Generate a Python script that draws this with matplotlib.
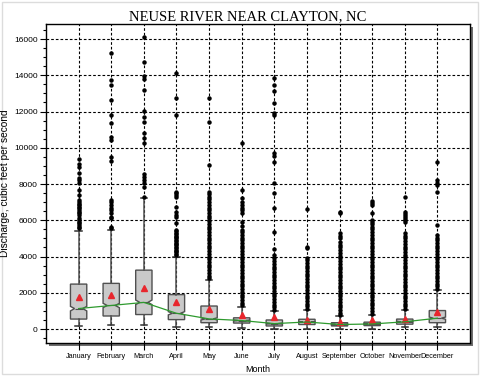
import matplotlib
matplotlib.use("Agg")
import matplotlib.pyplot as plt
from matplotlib.patches import Rectangle
from matplotlib.ticker import MultipleLocator

# Monthly discharge statistics, cubic feet per second
months = ["January", "February", "March", "April", "May", "June",
          "July", "August", "September", "October", "November", "December"]
q1 = [550, 720, 800, 520, 350, 330, 170, 250, 170, 190, 270, 350]
median = [1130, 1300, 1470, 870, 560, 470, 300, 390, 250, 280, 400, 600]
q3 = [2480, 2520, 3250, 1900, 1270, 620, 500, 540, 350, 380, 550, 1020]
notch_lo = [1000, 1180, 1350, 780, 500, 440, 270, 360, 230, 260, 370, 540]
notch_hi = [1250, 1420, 1600, 960, 620, 500, 330, 420, 270, 300, 430, 660]
whisker_lo = [165, 200, 210, 130, 90, 60, 20, 30, 10, 30, 90, 90]
whisker_hi = [5420, 5460, 7210, 3950, 2700, 1230, 1000, 1050, 700, 800, 1050, 2150]
mean = [1780, 1880, 2240, 1470, 1120, 750, 640, 500, 400, 480, 540, 960]

jan_out = [5560, 5650, 5740, 5830, 5920, 6000, 6120, 6290, 6380, 6470, 6560, 6660,
           6750, 6840, 6920, 7020, 7120, 7390, 7670, 8040, 8220, 8310, 8590, 8960,
           9100, 9360]
feb_out = [5570, 5650, 6110, 6200, 6380, 6570, 6700, 6850, 7000, 7120, 9290, 9470,
           10430, 10610, 11380, 11810, 12630, 13460, 13740, 15210]
mar_out = [7300, 7850, 8040, 8220, 8400, 8540, 10250, 10520, 10800, 11400, 11680,
           12030, 13190, 13780, 13960, 14750, 16130]
apr_out = [4080, 4150, 4230, 4300, 4380, 4460, 4530, 4610, 4690, 4760, 4840, 4920,
           5000, 5080, 5150, 5230, 5310, 5390, 5460, 5830, 6200, 6290, 6470, 6750,
           7300, 7390, 7490, 7580, 11810, 12730, 14110]
may_out = [2800, 2950, 3100, 3250, 3400, 3550, 3700, 3850, 4000, 4150, 4300, 4450,
           4600, 4750, 4900, 5050, 5200, 5350, 5500, 5650, 5800, 5950, 6100, 6250,
           6400, 6550, 6700, 6850, 7000, 7150, 7300, 7450, 7580, 9050, 11400, 12730]
jun_out = [1300, 1450, 1600, 1750, 1900, 2050, 2200, 2350, 2500, 2650, 2800, 2950,
           3100, 3250, 3400, 3550, 3700, 3850, 4000, 4150, 4300, 4450, 4600, 4750,
           4900, 5050, 5200, 5350, 5460, 5700, 5920, 6380, 6550, 6700, 6850, 7000,
           7210, 7670, 10250]
jul_out = [1050, 1200, 1350, 1500, 1650, 1800, 1950, 2100, 2250, 2400, 2550, 2700,
           2850, 3000, 3150, 3300, 3450, 3600, 3750, 3900, 4080, 4400, 5370, 6660,
           7490, 8070, 9230, 9540, 9690, 11810, 11900, 12490, 13130, 13460, 13830]
aug_out = [1100, 1250, 1400, 1550, 1700, 1850, 2000, 2150, 2300, 2450, 2600, 2750,
           2900, 3050, 3200, 3350, 3500, 3650, 3800, 3900, 4450, 4540, 6620]
sep_out = [750, 900, 1050, 1200, 1350, 1500, 1650, 1800, 1950, 2100, 2250, 2400,
           2550, 2700, 2850, 3000, 3150, 3300, 3450, 3600, 3750, 3900, 4050, 4200,
           4350, 4500, 4650, 4820, 5020, 5150, 5300, 6380, 6470]
oct_out = [850, 1000, 1150, 1300, 1450, 1600, 1750, 1900, 2050, 2200, 2350, 2500,
           2650, 2800, 2950, 3100, 3250, 3400, 3550, 3700, 3850, 4000, 4150, 4300,
           4450, 4600, 4750, 4900, 5050, 5200, 5350, 5500, 5650, 5800, 5920, 6010,
           6380, 6840, 6960, 7080]
nov_out = [1100, 1250, 1400, 1550, 1700, 1850, 2000, 2150, 2300, 2450, 2600, 2750,
           2900, 3050, 3200, 3350, 3500, 3650, 3800, 3950, 4100, 4250, 4400, 4550,
           4700, 4850, 5000, 5150, 5280, 5920, 6020, 6120, 6220, 6320, 6470, 7300]
dec_out = [2200, 2350, 2500, 2650, 2800, 2950, 3100, 3250, 3400, 3550, 3700, 3850,
           4000, 4150, 4300, 4450, 4600, 4750, 4900, 5050, 5190, 5740, 7580, 7940,
           8040, 8220, 9230]
outliers = [jan_out, feb_out, mar_out, apr_out, may_out, jun_out,
            jul_out, aug_out, sep_out, oct_out, nov_out, dec_out]

positions = list(range(1, len(months) + 1))

stats = []
for i, m in enumerate(months):
    stats.append(dict(label=m, q1=q1[i], med=median[i], q3=q3[i],
                      cilo=notch_lo[i], cihi=notch_hi[i],
                      whislo=whisker_lo[i], whishi=whisker_hi[i],
                      mean=mean[i], fliers=outliers[i]))

fig = plt.figure(figsize=(4.8, 3.76), dpi=100)
ax = fig.add_axes([46 / 480, 33 / 376, 424 / 480, 319 / 376])
ax.set_zorder(2)

# drop shadow behind the plot frame
shadow = Rectangle((49 / 480, 30 / 376), 424 / 480, 319 / 376,
                   transform=fig.transFigure, facecolor="#6e6e6e",
                   edgecolor="none", zorder=0)
fig.patches.append(shadow)
border = Rectangle((0.004, 0.004), 0.992, 0.992, transform=fig.transFigure,
                   facecolor="none", edgecolor="#dcdcdc", lw=1, zorder=0)
fig.patches.append(border)

dash = (0, (2.4, 1.8))
ax.set_axisbelow(True)
ax.grid(True, which="major", color="black", linestyle=dash, linewidth=0.8)

ax.bxp(stats, positions=positions, widths=0.5, capwidths=0.2,
       shownotches=True, showmeans=True, patch_artist=True,
       boxprops=dict(facecolor="#c9c9c9", edgecolor="#505050", linewidth=1.0),
       medianprops=dict(color="#505050", linewidth=0.8),
       whiskerprops=dict(color="#505050", linewidth=1.1),
       capprops=dict(color="#303030", linewidth=1.1),
       flierprops=dict(marker="o", markerfacecolor="black",
                       markeredgecolor="black", markersize=2.2),
       meanprops=dict(marker="^", markerfacecolor="#e8262d",
                      markeredgecolor="#e8262d", markersize=4.0))

ax.plot(positions, median, color="#2e9a2e", linewidth=0.9, zorder=5)

ax.set_xlim(0, 13)
ax.set_ylim(-770, 16830)
ax.set_xticks(positions)
ax.set_xticklabels(months, fontsize=5.2, family="Liberation Sans")
ax.yaxis.set_major_locator(MultipleLocator(2000))
ax.yaxis.set_minor_locator(MultipleLocator(500))
ax.tick_params(axis="y", which="major", length=4, width=0.8, labelsize=6, pad=2)
ax.tick_params(axis="y", which="minor", length=2.5, width=0.8)
ax.tick_params(axis="x", length=5, width=0.8, color="black", pad=2)
for lbl in ax.get_yticklabels():
    lbl.set_family("Liberation Sans")

for s in ax.spines.values():
    s.set_linewidth(1.0)
    s.set_color("black")

ax.set_ylabel("Discharge, cubic feet per second", fontsize=7.3,
              family="Liberation Sans", labelpad=3)
ax.set_xlabel("Month", fontsize=6.5, family="Liberation Sans", labelpad=3.5)
fig.text(0.515, 0.972, "NEUSE RIVER NEAR CLAYTON, NC", ha="center", va="top",
         fontsize=10.5, family="Liberation Serif")

fig.savefig("out.png", dpi=100)
